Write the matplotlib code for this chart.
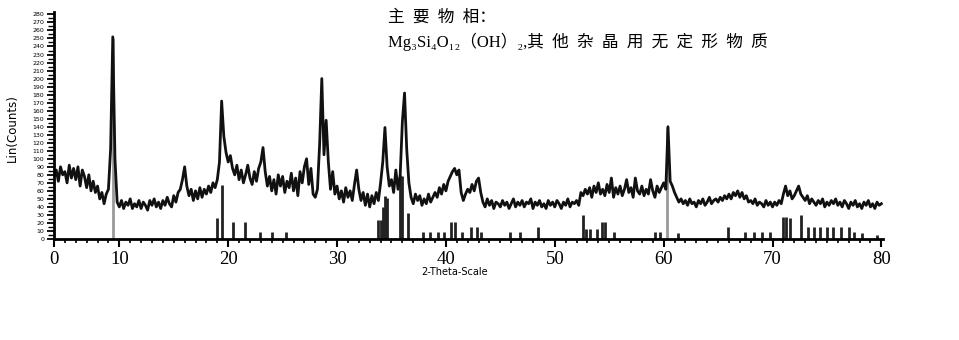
import numpy as np
import matplotlib
matplotlib.use("Agg")
from matplotlib import pyplot as plt

# measured pattern, one value every 0.2 degrees from 4.0 to 80.0
counts = [
    78, 86, 72, 90, 80,   84, 70, 92, 76, 88,   74, 90, 66, 86, 78,   # 4-6
    64, 80, 60, 72, 58,   66, 50, 58, 44, 56,   62, 112, 252, 100, 46,  # 7-9
    40, 48, 38, 46, 42,   50, 38, 44, 40, 48,   38, 46, 42, 36, 48,   # 10-12
    42, 50, 40, 46, 38,   48, 42, 52, 44, 40,   54, 46, 58, 62, 74,   # 13-15
    90, 66, 54, 62, 48,   60, 50, 64, 52, 62,   56, 66, 58, 70, 64,   # 16-18
    74, 96, 172, 128, 108,  96, 104, 88, 80, 92,  74, 86, 70, 80, 92,  # 19-21
    76, 68, 84, 72, 88,   96, 114, 84, 66, 78,  60, 74, 56, 80, 66,   # 22-24
    78, 58, 72, 64, 82,   60, 76, 54, 84, 70,   90, 100, 68, 88, 56,  # 25-27
    52, 62, 118, 200, 105,  148, 96, 62, 84, 56,  66, 50, 60, 46, 64,  # 28-30
    52, 60, 48, 68, 86,   62, 48, 58, 42, 56,   40, 54, 44, 58, 48,   # 31-33
    70, 96, 139, 90, 66,  74, 58, 86, 62, 80,   146, 182, 112, 70, 52,  # 34-36
    44, 56, 48, 54, 42,   50, 44, 56, 46, 52,   58, 52, 64, 56, 68,   # 37-39
    60, 72, 78, 84, 88,   80, 86, 58, 48, 56,   62, 58, 68, 60, 72,   # 40-42
    76, 58, 46, 40, 50,   42, 48, 38, 46, 44,   40, 48, 42, 46, 38,   # 43-45
    44, 50, 40, 46, 42,   48, 40, 46, 44, 50,   38, 46, 42, 48, 40,   # 46-48
    44, 38, 48, 42, 46,   40, 48, 44, 38, 46,   42, 50, 40, 46, 44,   # 49-51
    48, 42, 58, 54, 62,   56, 64, 52, 66, 58,   70, 56, 62, 54, 68,   # 52-54
    58, 76, 52, 64, 56,   66, 54, 62, 74, 58,   64, 52, 76, 60, 56,   # 55-57
    66, 54, 62, 56, 74,   60, 52, 66, 58, 64,   70, 62, 140, 72, 66,  # 58-60
    58, 52, 46, 50, 44,   48, 42, 50, 44, 46,   40, 48, 44, 50, 42,   # 61-63
    46, 52, 44, 48, 50,   46, 52, 48, 54, 50,   56, 50, 58, 54, 60,   # 64-66
    52, 58, 50, 54, 46,   48, 44, 50, 42, 46,   44, 40, 48, 42, 46,   # 67-69
    40, 46, 42, 48, 44,   56, 66, 54, 60, 50,   54, 60, 66, 56, 52,   # 70-72
    48, 54, 44, 50, 46,   42, 48, 44, 50, 40,   46, 42, 48, 44, 50,   # 73-75
    42, 46, 40, 48, 44,   38, 46, 42, 48, 40,   44, 38, 46, 42, 48,   # 76-78
    40, 44, 38, 46, 42,   44,                                          # 79-80
]
two_theta = np.linspace(4, 80, len(counts))

# reference stick pattern
stick_pos = [9.4, 18.95, 19.45, 20.45, 21.5, 22.9, 24.0, 25.3,
             33.8, 34.0, 34.2, 34.4, 34.6, 35.75, 35.95, 36.5, 37.9, 38.5,
             39.3, 39.8, 40.5, 40.8, 41.5, 42.3, 42.9, 43.2, 45.9, 46.8,
             48.5, 52.6, 52.9, 53.2, 53.9, 54.3, 54.6, 55.4, 59.2, 59.7,
             60.35, 61.3, 65.9, 67.5, 68.3, 69.0, 69.8, 71.0, 71.2, 71.6,
             72.6, 73.3, 73.8, 74.4, 75.0, 75.6, 76.3, 77.0, 77.5, 78.2, 79.6]
stick_h = [250, 26, 67, 21, 21, 9, 9, 9,
           24, 24, 40, 53, 51, 80, 78, 32, 9, 9,
           9, 9, 21, 21, 9, 15, 15, 9, 9, 9,
           15, 30, 13, 13, 13, 21, 21, 9, 9, 9,
           140, 8, 15, 9, 9, 9, 9, 28, 28, 26,
           30, 15, 15, 15, 15, 15, 15, 15, 9, 8, 5]
grey_sticks = [9.4, 60.35]

x_ticks = [4, 10, 20, 30, 40, 50, 60, 70, 80]
x_labels = ['0', '10', '20', '30', '40', '50', '60', '70', '80']

fig = plt.figure(figsize=(9.59, 3.4), dpi=100)
ax = fig.add_axes([54 / 959, 101 / 340, 829 / 959, 227 / 340])

cols = ['#999999' if p in grey_sticks else '#222222' for p in stick_pos]
ax.vlines(stick_pos, 0, stick_h, colors=cols, linewidth=2)
ax.plot(two_theta, counts, color='#111111', linewidth=2.0)

ax.set_xlim(4, 80.15)
ax.set_ylim(0, 283)

ax.spines['top'].set_visible(False)
ax.spines['right'].set_visible(False)
ax.spines['left'].set_linewidth(2)
ax.spines['bottom'].set_linewidth(2)

ax.set_xticks(x_ticks)
ax.set_xticklabels(x_labels, fontfamily='Liberation Serif', fontsize=13.5)
ax.set_xticks(np.arange(5, 80, 1), minor=True)
ax.tick_params(axis='x', which='major', length=6, width=1.5, pad=3)
ax.tick_params(axis='x', which='minor', length=3, width=1.2)

ax.set_yticks(np.arange(0, 281, 10))
ax.set_yticks(np.arange(5, 280, 10), minor=True)
ax.tick_params(axis='y', which='major', length=5, width=1.3, labelsize=4.5, pad=2)
ax.tick_params(axis='y', which='minor', length=4, width=1.0)

fig.text(12 / 959, 1 - 128 / 340, 'Lin(Counts)', rotation=90, fontsize=8.5,
         ha='center', va='center')
fig.text(455 / 959, 1 - 272 / 340, '2-Theta-Scale', fontsize=7,
         ha='center', va='center')

title_font = ['Liberation Serif', 'DejaVu Serif', 'Noto Sans CJK SC']
fig.text(388 / 959, 1 - 18 / 340, '主  要  物  相：', fontsize=12,
         family=title_font, ha='left', va='center')
fig.text(388 / 959, 1 - 42 / 340,
         'Mg₃Si₄O₁₂（OH）₂,其  他  杂  晶  用  无  定  形  物  质', fontsize=12,
         family=title_font, ha='left', va='center')

plt.savefig('out.png', dpi=100)
